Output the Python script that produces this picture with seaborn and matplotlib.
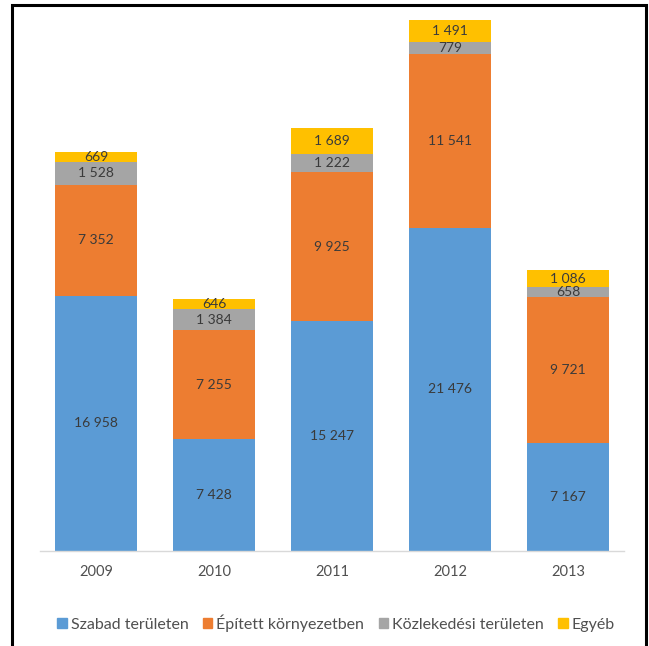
import matplotlib
matplotlib.use("Agg")
import matplotlib.pyplot as plt
from matplotlib.patches import Rectangle
import numpy as np
import pandas as pd
import seaborn as sns

years = ["2009", "2010", "2011", "2012", "2013"]
szabad = [16958, 7428, 15247, 21476, 7167]
epitett = [7352, 7255, 9925, 11541, 9721]
kozlekedesi = [1528, 1384, 1222, 779, 658]
egyeb = [669, 646, 1689, 1491, 1086]

series_names = ["Szabad területen", "Épített környezetben", "Közlekedési területen", "Egyéb"]
series_values = [szabad, epitett, kozlekedesi, egyeb]
colors = ["#5B9BD5", "#ED7D31", "#A5A5A5", "#FFC000"]

sns.set_theme(style="white")
plt.rcParams["font.family"] = ["Lato", "DejaVu Sans"]

fig = plt.figure(figsize=(6.49, 6.46), dpi=100)
W, H = 649, 646
ax = fig.add_axes([40 / W, 1 - 551 / H, (624 - 40) / W, (551 - 9) / H])

vals = np.array(series_values, dtype=float)
cum = np.cumsum(vals, axis=0)

# stacked bars: draw cumulative totals from the top layer down
for i in range(len(series_names) - 1, -1, -1):
    df = pd.DataFrame({"year": years, "value": cum[i]})
    sns.barplot(data=df, x="year", y="value", color=colors[i], width=0.69,
                saturation=1, linewidth=0, edgecolor="none", ax=ax, zorder=2)

# segment value labels
def fmt(v):
    return f"{int(v):,}".replace(",", " ")

for i in range(len(series_names)):
    for j in range(len(years)):
        v = vals[i, j]
        ax.text(j, cum[i, j] - v / 2, fmt(v), ha="center", va="center",
                fontsize=10, color="#3A3A3A", zorder=5)

ax.set_xlim(-0.475, 4.475)
ax.set_ylim(0, 36000)
ax.set_xlabel("")
ax.set_ylabel("")
ax.set_yticks([])
ax.tick_params(axis="x", length=0, pad=10, labelsize=10.5, labelcolor="#505050")
for s in ["top", "right", "left"]:
    ax.spines[s].set_visible(False)
ax.spines["bottom"].set_color("#D9D9D9")
ax.spines["bottom"].set_linewidth(1)
ax.spines["bottom"].set_zorder(3)

handles = [Rectangle((0, 0), 1, 1, color=c) for c in colors]
fig.legend(handles, series_names, loc="center", bbox_to_anchor=(336 / W, 1 - 623 / H),
           ncol=4, frameon=False, fontsize=11.5, handlelength=0.6, handleheight=0.6,
           handletextpad=0.25, columnspacing=0.9, labelcolor="#505050")

# outer frame
fig.patches.append(Rectangle((11.5 / W, -0.01), (646 - 11.5) / W, (1 - 5 / H) + 0.01,
                             transform=fig.transFigure, fill=False, edgecolor="black",
                             linewidth=2.2, zorder=10))

fig.savefig("out.png", dpi=100)
